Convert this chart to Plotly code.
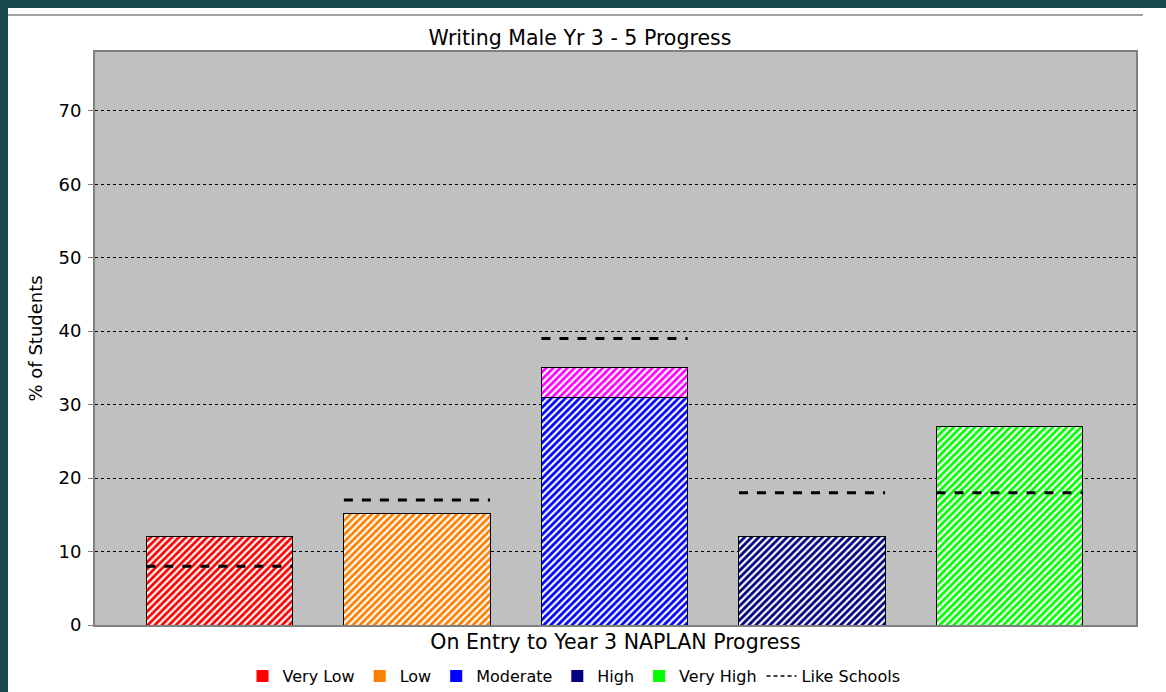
import plotly.graph_objects as go

# Data
categories = ['Very Low', 'Low', 'Moderate', 'High', 'Very High']
school_pct = [12, 15.2, 31, 12, 27]
extra_pct = [None, None, 4, None, None]   # magenta top on Moderate
like_schools = [8, 17, 39, 18, 18]
bar_colors = ['#ff0000', '#ff7f00', '#0000ff', '#000080', '#00ff00']
extra_color = '#ff00ff'
y_ticks = [0, 10, 20, 30, 40, 50, 60, 70]

# page body keeps an 8px margin top/left, so figure pixels = screen pixels - 8
W, H = 1166, 692
L, R, T, B = 87, 1128, 44, 617   # plot area in figure pixels
BAR_W = 0.74
X_RANGE = [-0.63, 4.64]
teal = '#174a4a'


def px_x(p):
    return (p - L) / (R - L)


def px_y(p):
    return (B - p) / (B - T)


def hatch(c):
    return dict(shape='/', bgcolor=c, fgcolor='white', fgopacity=1,
                fillmode='overlay', size=5, solidity=0.45)


fig = go.Figure()

# Bars with diagonal hatching (one trace per bar so each keeps its own colour)
for cat, val, c in zip(categories, school_pct, bar_colors):
    fig.add_trace(go.Bar(
        x=[cat], y=[val], width=BAR_W,
        marker=dict(color=c, line=dict(color='black', width=1),
                    pattern=hatch(c)),
        showlegend=False, hoverinfo='y',
    ))
fig.add_trace(go.Bar(
    x=categories, y=extra_pct, width=BAR_W,
    marker=dict(color=extra_color, line=dict(color='black', width=1),
                pattern=hatch(extra_color)),
    showlegend=False, hoverinfo='y',
))

# Like schools dashed markers, drawn on an overlaid numeric axis
lx, ly = [], []
for i, v in enumerate(like_schools):
    lx += [i - BAR_W / 2, i + BAR_W / 2, None]
    ly += [v, v, None]
fig.add_trace(go.Scatter(
    x=lx, y=ly, xaxis='x2', mode='lines',
    line=dict(color='black', width=3, dash='dash'),
    showlegend=False, hoverinfo='skip',
))

# Legend entries
for name, c in zip(categories, bar_colors):
    fig.add_trace(go.Scatter(
        x=[None], y=[None], mode='markers', name=name,
        marker=dict(symbol='square', size=12, color=c),
    ))
fig.add_trace(go.Scatter(
    x=[None], y=[None], mode='lines', name='Like Schools',
    line=dict(color='black', width=1.5, dash='4px,3px'),
))

# thin grey rule along the top
fig.add_shape(type='line', xref='paper', yref='paper',
              x0=px_x(0), x1=px_x(1135), y0=px_y(7), y1=px_y(7),
              line=dict(color='#a0a0a0', width=2))

fig.add_annotation(
    text='% of Students', textangle=-90, showarrow=False,
    xref='paper', yref='paper', x=px_x(27), y=0.5,
    xanchor='center', yanchor='middle',
    font=dict(family='DejaVu Sans', size=18),
)

fig.update_layout(
    width=W, height=H,
    margin=dict(l=L, r=W - R, t=T, b=H - B, autoexpand=False),
    paper_bgcolor='white',
    plot_bgcolor='#c0c0c0',
    barmode='stack',
    font=dict(family='DejaVu Sans', size=16, color='black'),
    title=dict(text='Writing Male Yr 3 - 5 Progress', x=px_x(572),
               xanchor='center', xref='paper',
               y=1 - 30 / H, yanchor='middle',
               font=dict(family='DejaVu Sans', size=20.5)),
    xaxis=dict(
        range=X_RANGE,
        showticklabels=False, ticks='',
        showline=True, mirror=True, linecolor='#808080', linewidth=2,
        showgrid=False,
        title=dict(text='On Entry to Year 3 NAPLAN Progress', standoff=9,
                   font=dict(family='DejaVu Sans', size=20.5)),
    ),
    xaxis2=dict(overlaying='x', range=X_RANGE, visible=False),
    yaxis=dict(
        range=[0, 78],
        tickvals=y_ticks,
        ticks='outside', ticklen=5, tickcolor='#808080', ticklabelstandoff=3,
        showline=True, mirror=True, linecolor='#808080', linewidth=2,
        showgrid=True, gridcolor='black', gridwidth=1, griddash='dot',
        zeroline=False,
        tickfont=dict(family='DejaVu Sans', size=18),
    ),
    legend=dict(
        orientation='h', x=px_x(566), xanchor='center', traceorder='normal',
        y=px_y(668), yanchor='middle',
        font=dict(family='DejaVu Sans', size=16),
        itemwidth=30, bgcolor='rgba(0,0,0,0)',
    ),
)

fig.write_html(
    'out.html',
    post_script="document.body.style.background='%s';"
                "document.body.style.margin='8px 0 0 8px';"
                "document.body.style.overflow='hidden';" % teal,
)
